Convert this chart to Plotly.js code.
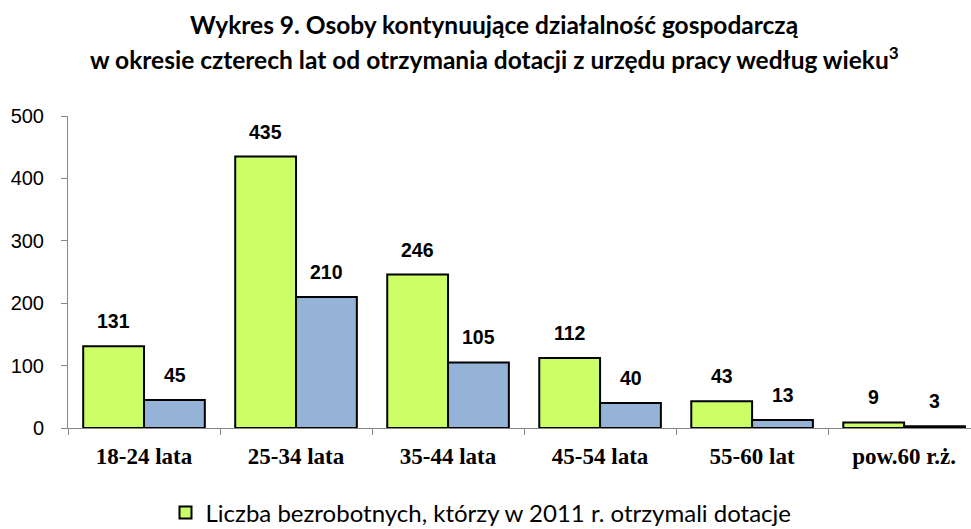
<!DOCTYPE html>
<html>
<head>
<meta charset="utf-8">
<script src="https://cdn.plot.ly/plotly-3.0.1.min.js"></script>
<style>
html,body{margin:0;padding:0;background:#fff;}
#chart{width:971px;height:529px;}
</style>
</head>
<body>
<div id="chart"></div>
<script>
const categories = ["18-24 lata", "25-34 lata", "35-44 lata", "45-54 lata", "55-60 lat", "pow.60 r.ż."];
const seriesGrantees2011 = [131, 435, 246, 112, 43, 9];
const seriesContinuing = [45, 210, 105, 40, 13, 3];
const seriesNames = ["Liczba bezrobotnych, którzy w 2011 r. otrzymali dotacje", "Liczba osób kontynuujących działalność gospodarczą"];
const yTicks = [0, 100, 200, 300, 400, 500];
const titleLine1 = "Wykres 9. Osoby kontynuujące działalność gospodarczą";
const titleLine2 = "w okresie czterech lat od otrzymania dotacji z urzędu pracy według wieku<sup>3</sup>";

const barLine = {color: "#000000", width: 2};
const traces = [
  {type: "bar", x: categories, y: seriesGrantees2011, name: seriesNames[0],
   marker: {color: "#CCFF66", line: barLine}, hoverinfo: "x+y"},
  {type: "bar", x: categories, y: seriesContinuing, name: seriesNames[1],
   marker: {color: "#95B3D7", line: barLine}, showlegend: false, hoverinfo: "x+y"}
];

const titleFont = {family: "Lato, Open Sans, sans-serif", size: 24.5, color: "#000"};
const labelFont = {family: "Liberation Sans, Arial, sans-serif", size: 19.5, color: "#000"};
const annotations = [];
[seriesGrantees2011, seriesContinuing].forEach((vals, si) => {
  vals.forEach((v, i) => {
    annotations.push({
      x: categories[i], y: v, xref: "x", yref: "y",
      text: "<b>" + v + "</b>", showarrow: false,
      xshift: si === 0 ? -30.5 : 30.5, yshift: 25, yanchor: "middle",
      font: labelFont
    });
  });
});
annotations.push({
  text: "<b>" + titleLine2 + "</b>", xref: "paper", yref: "paper",
  x: (494 - 68) / 903, y: (428 - 58) / 312, xanchor: "center", yanchor: "middle", showarrow: false,
  font: titleFont
});

const layout = {
  width: 971, height: 529,
  margin: {l: 68, r: 0, t: 116, b: 101, pad: 0},
  paper_bgcolor: "#ffffff", plot_bgcolor: "#ffffff",
  title: {text: "<b>" + titleLine1 + "</b>", xref: "container", x: 494 / 971, xanchor: "center",
          yref: "container", y: 1 - 25/529, yanchor: "middle",
          font: titleFont},
  bargap: 0.2, bargroupgap: 0,
  barmode: "group",
  xaxis: {
    type: "category", range: [-0.5, 5.44],
    showline: true, linecolor: "#868686", linewidth: 1,
    ticks: "outside", tickson: "boundaries", ticklen: 6, tickcolor: "#868686",
    showgrid: false, zeroline: false,
    tickfont: {family: "Liberation Serif, Times New Roman, serif", size: 23, color: "#000", weight: "bold"},
    ticklabelstandoff: 7
  },
  yaxis: {
    range: [0, 500], tickvals: yTicks, ticktext: yTicks.map(String),
    showline: true, linecolor: "#868686", linewidth: 1,
    ticks: "outside", ticklen: 6, tickcolor: "#868686",
    showgrid: false, zeroline: false,
    tickfont: {family: "Liberation Sans, Arial, sans-serif", size: 20, color: "#000"},
    ticklabelstandoff: 13
  },
  showlegend: true,
  legend: {
    orientation: "h", xref: "container", yref: "container",
    x: 481 / 971, xanchor: "center", y: 1 - 513/529, yanchor: "middle",
    font: {family: "Lato, Open Sans, sans-serif", size: 24, color: "#000"},
    itemwidth: 30, bgcolor: "rgba(0,0,0,0)"
  },
  annotations: annotations
};

Plotly.newPlot("chart", traces, layout, {displayModeBar: false, staticPlot: true});
</script>
</body>
</html>
